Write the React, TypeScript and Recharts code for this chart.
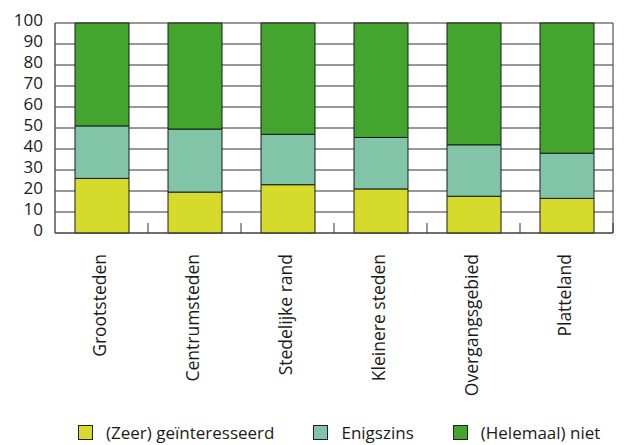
import React from 'react'
import { BarChart, Bar, XAxis, YAxis, CartesianGrid, Legend } from 'recharts'

const categories = ['Grootsteden', 'Centrumsteden', 'Stedelijke rand', 'Kleinere steden', 'Overgangsgebied', 'Platteland']
const zeer = [26, 19.5, 23, 21, 17.5, 16.5]
const enigszins = [25, 30, 24, 24.5, 24.5, 21.5]
const niet = [49, 50.5, 53, 54.5, 58, 62]
const yTicks = [0, 10, 20, 30, 40, 50, 60, 70, 80, 90, 100]

const series = [
  { key: 'zeer', label: '(Zeer) geïnteresseerd', color: '#d6da2b' },
  { key: 'enigszins', label: 'Enigszins', color: '#82c4a8' },
  { key: 'niet', label: '(Helemaal) niet', color: '#43a52e' },
]

const data = categories.map((name, i) => ({
  name,
  zeer: zeer[i],
  enigszins: enigszins[i],
  niet: niet[i],
}))

const FONT = '"Open Sans", sans-serif'

const YTick = (props: any) => {
  const { x, y, payload } = props
  return (
    <text x={x} y={y} dy={3} textAnchor="end" fontSize={17} fontFamily={FONT} fill="#1a1a1a">
      {payload.value}
    </text>
  )
}

// rotated label + short inward tick at the right edge of each category band
const XTick = (props: any) => {
  const { x, y, payload, width, visibleTicksCount } = props
  const top = y + 21
  const edge = x + width / visibleTicksCount / 2
  return (
    <g>
      <line x1={edge} x2={edge} y1={y} y2={y - 10} stroke="#333" strokeWidth={1} />
      <text
        x={x}
        y={top}
        dy={4}
        textAnchor="end"
        transform={`rotate(-90 ${x} ${top})`}
        fontSize={17.5}
        fontFamily={FONT}
        fill="#1a1a1a"
      >
        {payload.value}
      </text>
    </g>
  )
}

const LegendBox = () => (
  <div style={{ height: 26, display: 'flex', alignItems: 'center', paddingLeft: 70, fontFamily: FONT, fontSize: 17, color: '#1a1a1a' }}>
    {series.map((s) => (
      <div key={s.key} style={{ display: 'flex', alignItems: 'center', marginRight: 39 }}>
        <span style={{ width: 13, height: 13, background: s.color, border: '1px solid #222', display: 'inline-block' }} />
        <span style={{ marginLeft: 13, whiteSpace: 'nowrap' }}>{s.label}</span>
      </div>
    ))}
  </div>
)

export default function App() {
  return (
    <BarChart
      width={627}
      height={437}
      data={data}
      margin={{ top: 15, right: 22, left: 0, bottom: 0 }}
      barSize={54}
    >
      <CartesianGrid
        vertical
        stroke="#333"
        strokeWidth={1}
        verticalCoordinatesGenerator={({ offset }: any) => [offset.left, offset.left + offset.width]}
      />
      <XAxis
        dataKey="name"
        interval={0}
        tickLine={false}
        tickSize={0}
        tickMargin={0}
        axisLine={{ stroke: '#444' }}
        height={186}
        tick={<XTick />}
      />
      <YAxis
        domain={[0, 100]}
        ticks={yTicks}
        width={47}
        tickLine={false}
        tickSize={0}
        tickMargin={12}
        axisLine={{ stroke: '#666' }}
        tick={<YTick />}
        interval={0}
      />
      <Legend verticalAlign="bottom" content={<LegendBox />} wrapperStyle={{ left: 0, width: 627 }} />
      {series.map((s) => (
        <Bar key={s.key} dataKey={s.key} stackId="a" fill={s.color} stroke="#1a1a1a" strokeWidth={1} isAnimationActive={false} />
      ))}
    </BarChart>
  )
}
